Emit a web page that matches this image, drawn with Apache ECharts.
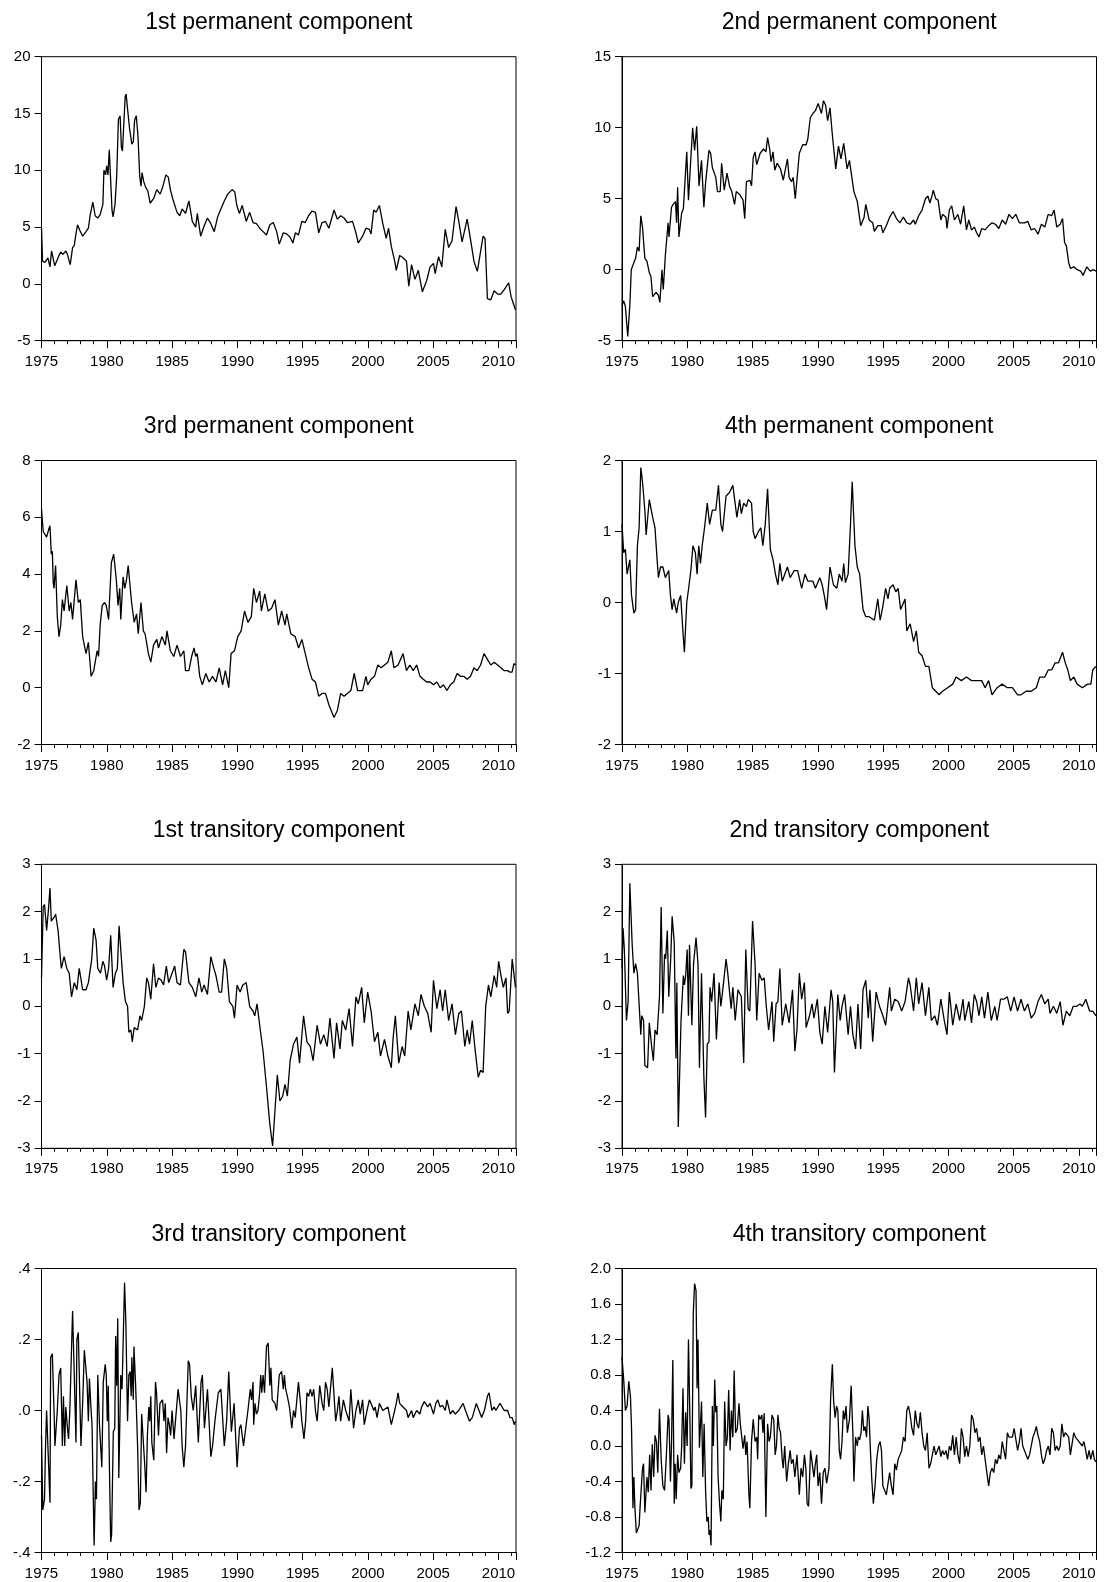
<!DOCTYPE html>
<html>
<head>
<meta charset="utf-8">
<script src="https://cdn.jsdelivr.net/npm/echarts@6/dist/echarts.min.js"></script>
<style>
  html, body { margin: 0; padding: 0; background: #ffffff; }
  #chart { width: 1105px; height: 1582px; }
</style>
</head>
<body>
<div id="chart"></div>
<script>
// Monthly-sampled components, stored as [decimal year, value]
const perm1 = [[1975.00,5.0],[1975.08,2.0],[1975.26,1.9],[1975.49,2.3],[1975.65,1.5],[1975.77,2.9],[1976.01,1.6],[1976.16,2.0],[1976.34,2.5],[1976.47,2.8],[1976.65,2.6],[1976.86,2.9],[1976.99,2.6],[1977.12,2.0],[1977.20,1.7],[1977.38,3.2],[1977.51,3.4],[1977.64,4.4],[1977.76,5.2],[1977.94,4.7],[1978.15,4.2],[1978.41,4.6],[1978.59,4.9],[1978.72,6.0],[1978.93,7.2],[1979.11,6.0],[1979.31,5.8],[1979.49,6.1],[1979.70,7.0],[1979.78,10.0],[1979.91,9.6],[1979.99,10.4],[1980.09,9.6],[1980.19,11.8],[1980.30,11.8],[1980.40,6.5],[1980.48,5.9],[1980.63,7.0],[1980.76,9.5],[1980.89,14.5],[1981.02,14.8],[1981.12,12.0],[1981.20,11.7],[1981.30,14.0],[1981.41,16.5],[1981.48,16.7],[1981.61,15.2],[1981.74,13.7],[1981.82,13.7],[1981.92,12.3],[1982.03,12.5],[1982.13,14.4],[1982.26,14.8],[1982.39,13.0],[1982.52,9.5],[1982.62,8.6],[1982.70,9.8],[1982.83,9.0],[1982.98,8.5],[1983.14,8.2],[1983.32,7.1],[1983.58,7.5],[1983.83,8.3],[1984.09,7.9],[1984.30,8.6],[1984.53,9.6],[1984.71,9.4],[1984.87,8.3],[1985.05,7.5],[1985.38,6.3],[1985.59,6.0],[1985.77,6.6],[1986.03,6.2],[1986.29,7.3],[1986.55,5.5],[1986.81,5.0],[1986.93,6.2],[1987.19,4.2],[1987.45,5.1],[1987.71,5.8],[1987.97,5.3],[1988.23,4.6],[1988.49,5.9],[1988.74,6.6],[1989.00,7.3],[1989.26,7.9],[1989.60,8.3],[1989.80,8.1],[1989.96,6.9],[1990.16,6.2],[1990.37,6.9],[1990.68,5.5],[1990.94,6.3],[1991.20,5.4],[1991.46,5.3],[1991.71,4.9],[1991.97,4.6],[1992.23,4.3],[1992.49,5.2],[1992.75,5.4],[1993.01,4.6],[1993.21,3.5],[1993.52,4.5],[1993.78,4.4],[1994.04,4.1],[1994.25,3.6],[1994.45,4.5],[1994.68,4.3],[1994.94,5.5],[1995.20,5.4],[1995.45,6.0],[1995.71,6.4],[1995.98,6.3],[1996.23,4.5],[1996.49,5.4],[1996.75,5.5],[1997.01,4.9],[1997.40,6.5],[1997.66,5.7],[1997.91,6.0],[1998.17,5.8],[1998.43,5.4],[1998.82,5.5],[1999.08,4.5],[1999.26,3.6],[1999.59,4.2],[1999.85,4.9],[2000.11,4.8],[2000.24,4.4],[2000.44,6.5],[2000.63,6.3],[2000.88,6.9],[2001.01,6.9],[2001.14,5.3],[2001.40,4.0],[2001.58,4.9],[2001.79,3.3],[2002.05,2.0],[2002.17,1.2],[2002.43,2.5],[2002.69,2.3],[2002.95,2.0],[2003.13,-0.2],[2003.34,1.7],[2003.60,0.4],[2003.86,1.2],[2004.17,-0.7],[2004.50,0.3],[2004.76,1.5],[2005.02,1.8],[2005.15,0.9],[2005.41,2.4],[2005.66,1.5],[2005.92,4.8],[2006.18,3.2],[2006.44,3.8],[2006.75,6.8],[2006.96,5.5],[2007.21,3.7],[2007.60,5.7],[2007.86,3.9],[2008.12,2.0],[2008.38,1.1],[2008.51,1.2],[2008.82,4.2],[2008.97,4.0],[2009.15,-1.3],[2009.41,-1.4],[2009.67,-0.6],[2009.93,-0.9],[2010.18,-0.9],[2010.44,-0.5],[2010.78,0.1],[2010.96,-1.1],[2011.10,-1.6],[2011.30,-2.3]];

const perm2 = [[1975.00,-2.5],[1975.13,-2.2],[1975.26,-2.6],[1975.44,-4.7],[1975.60,-2.5],[1975.71,0.0],[1975.91,0.5],[1976.04,0.8],[1976.18,1.6],[1976.31,1.3],[1976.44,3.8],[1976.57,3.0],[1976.75,0.8],[1976.91,0.6],[1977.09,-0.2],[1977.22,-0.5],[1977.35,-1.9],[1977.61,-1.6],[1977.79,-1.8],[1977.90,-2.3],[1978.06,0.0],[1978.16,-1.4],[1978.32,1.0],[1978.53,3.3],[1978.60,2.3],[1978.79,4.4],[1978.92,4.6],[1979.10,4.8],[1979.18,3.3],[1979.26,5.8],[1979.36,2.3],[1979.47,2.3],[1979.57,4.0],[1979.70,4.3],[1979.83,6.3],[1979.96,8.3],[1980.09,4.9],[1980.22,7.0],[1980.41,10.0],[1980.56,8.4],[1980.72,10.1],[1980.90,5.9],[1981.09,7.7],[1981.27,4.4],[1981.40,6.1],[1981.66,8.4],[1981.79,8.2],[1981.92,7.2],[1982.18,6.5],[1982.31,5.5],[1982.52,5.5],[1982.63,7.5],[1982.83,5.6],[1983.04,6.8],[1983.23,5.9],[1983.41,5.5],[1983.62,4.6],[1983.75,5.5],[1984.01,5.3],[1984.27,4.9],[1984.40,3.6],[1984.53,6.2],[1984.79,6.3],[1984.92,5.9],[1985.05,7.9],[1985.19,8.3],[1985.32,7.4],[1985.58,8.2],[1985.84,8.5],[1986.02,8.3],[1986.15,9.3],[1986.31,8.5],[1986.41,7.6],[1986.57,8.3],[1986.70,7.0],[1986.88,7.5],[1987.14,7.1],[1987.35,6.3],[1987.67,7.8],[1987.80,6.5],[1987.98,6.2],[1988.11,6.5],[1988.27,5.0],[1988.40,4.9],[1988.58,8.2],[1988.84,8.8],[1989.10,8.8],[1989.23,9.2],[1989.42,10.7],[1989.62,11.0],[1989.81,11.2],[1990.02,11.7],[1990.28,11.0],[1990.43,11.9],[1990.59,11.6],[1990.75,10.5],[1990.93,11.4],[1991.11,9.5],[1991.37,7.1],[1991.58,8.7],[1991.77,7.8],[1991.98,8.9],[1992.24,7.1],[1992.42,7.7],[1992.76,5.5],[1993.02,4.8],[1993.28,3.1],[1993.54,3.7],[1993.67,4.6],[1993.93,3.5],[1994.20,3.3],[1994.33,2.7],[1994.59,3.1],[1994.85,3.1],[1994.98,2.6],[1995.24,3.1],[1995.50,3.7],[1995.76,4.1],[1996.02,3.6],[1996.28,3.3],[1996.55,3.7],[1996.81,3.3],[1997.07,3.2],[1997.33,3.5],[1997.46,3.2],[1997.72,3.8],[1997.98,4.2],[1998.24,5.0],[1998.43,5.2],[1998.58,4.7],[1998.77,5.3],[1998.84,5.6],[1999.03,5.0],[1999.21,4.9],[1999.42,3.5],[1999.55,3.9],[1999.81,3.7],[1999.89,2.9],[2000.07,4.2],[2000.25,4.5],[2000.46,3.5],[2000.72,3.9],[2000.93,3.2],[2001.17,4.5],[2001.38,2.8],[2001.56,3.5],[2001.77,2.8],[2001.98,3.0],[2002.16,2.6],[2002.34,2.3],[2002.55,2.9],[2002.81,2.8],[2003.08,3.1],[2003.34,3.3],[2003.60,3.2],[2003.86,2.9],[2004.12,3.5],[2004.38,3.2],[2004.64,3.9],[2004.90,3.6],[2005.16,3.9],[2005.43,3.3],[2005.82,3.3],[2006.08,3.4],[2006.34,2.8],[2006.60,2.9],[2006.86,2.5],[2007.12,3.2],[2007.38,3.0],[2007.64,3.9],[2007.91,3.8],[2008.09,4.2],[2008.30,3.0],[2008.56,3.2],[2008.74,3.6],[2008.90,1.9],[2009.03,1.7],[2009.21,0.5],[2009.34,0.1],[2009.60,0.2],[2009.86,0.0],[2010.13,-0.1],[2010.31,-0.4],[2010.60,0.2],[2010.86,-0.1],[2011.10,0.0],[2011.30,-0.1]];

const perm3 = [[1975.00,6.3],[1975.13,5.5],[1975.26,5.5],[1975.39,5.3],[1975.57,5.6],[1975.65,5.7],[1975.75,4.7],[1975.83,4.8],[1975.90,3.7],[1975.96,3.5],[1976.08,4.3],[1976.21,2.5],[1976.34,1.8],[1976.47,2.2],[1976.60,3.1],[1976.73,2.7],[1976.94,3.6],[1977.12,2.7],[1977.25,3.0],[1977.38,2.4],[1977.64,3.8],[1977.82,3.0],[1977.97,3.1],[1978.15,1.8],[1978.41,1.2],[1978.59,1.6],[1978.80,0.4],[1979.00,0.6],[1979.26,1.3],[1979.37,1.1],[1979.49,2.2],[1979.65,2.9],[1979.83,3.0],[1979.96,2.9],[1980.14,2.4],[1980.35,4.4],[1980.53,4.7],[1980.73,3.8],[1980.86,2.9],[1980.99,3.5],[1981.07,2.4],[1981.25,3.9],[1981.38,3.5],[1981.51,3.8],[1981.64,4.3],[1981.90,3.0],[1982.10,2.3],[1982.28,2.6],[1982.41,1.9],[1982.62,3.0],[1982.80,2.0],[1982.93,1.9],[1983.19,1.2],[1983.37,0.9],[1983.58,1.5],[1983.83,1.7],[1983.96,1.4],[1984.22,1.8],[1984.48,1.5],[1984.61,2.0],[1984.87,1.3],[1985.13,1.1],[1985.38,1.5],[1985.64,1.1],[1985.90,1.3],[1986.03,0.6],[1986.29,0.6],[1986.50,1.1],[1986.68,1.4],[1986.81,1.1],[1986.93,1.2],[1987.12,0.4],[1987.32,0.1],[1987.58,0.5],[1987.84,0.2],[1988.10,0.4],[1988.36,0.2],[1988.61,0.7],[1988.87,0.1],[1989.08,0.6],[1989.34,0.0],[1989.52,1.2],[1989.78,1.3],[1990.03,1.8],[1990.29,2.0],[1990.55,2.7],[1990.81,2.3],[1991.07,2.5],[1991.25,3.5],[1991.46,3.0],[1991.71,3.4],[1991.84,2.7],[1992.10,3.3],[1992.36,2.7],[1992.62,2.8],[1992.88,3.1],[1993.14,2.2],[1993.39,2.7],[1993.65,2.2],[1993.78,2.6],[1994.09,1.9],[1994.43,1.8],[1994.69,1.4],[1994.94,1.7],[1995.20,1.2],[1995.46,0.7],[1995.72,0.3],[1995.98,0.2],[1996.23,-0.3],[1996.49,-0.2],[1996.75,-0.2],[1997.01,-0.6],[1997.27,-0.9],[1997.40,-1.05],[1997.66,-0.8],[1997.91,-0.2],[1998.17,-0.3],[1998.43,-0.2],[1998.69,-0.1],[1998.95,0.5],[1999.21,-0.1],[1999.59,-0.1],[1999.85,0.4],[1999.98,0.1],[2000.24,0.3],[2000.50,0.4],[2000.76,0.8],[2001.01,0.7],[2001.27,0.8],[2001.53,0.9],[2001.79,1.3],[2001.99,0.7],[2002.31,0.8],[2002.69,1.2],[2002.95,0.6],[2003.21,0.8],[2003.47,0.6],[2003.73,0.8],[2003.99,0.4],[2004.24,0.3],[2004.50,0.2],[2004.76,0.2],[2005.02,0.1],[2005.28,0.2],[2005.53,0.0],[2005.79,0.1],[2006.05,-0.1],[2006.31,0.1],[2006.57,0.2],[2006.83,0.5],[2007.08,0.4],[2007.34,0.4],[2007.60,0.3],[2007.86,0.4],[2008.12,0.7],[2008.37,0.6],[2008.63,0.8],[2008.89,1.2],[2009.15,1.0],[2009.41,0.8],[2009.67,0.9],[2009.93,0.8],[2010.18,0.7],[2010.44,0.6],[2010.70,0.6],[2010.88,0.55],[2011.04,0.55],[2011.18,0.85],[2011.30,0.8]];

const perm4 = [[1975.00,1.1],[1975.13,0.7],[1975.26,0.75],[1975.39,0.4],[1975.60,0.6],[1975.73,0.1],[1975.91,-0.15],[1976.04,-0.1],[1976.18,0.8],[1976.31,1.05],[1976.44,1.9],[1976.57,1.7],[1976.75,1.3],[1976.85,0.95],[1977.09,1.45],[1977.35,1.2],[1977.53,1.05],[1977.69,0.6],[1977.79,0.35],[1977.95,0.5],[1978.13,0.5],[1978.32,0.35],[1978.58,0.45],[1978.71,0.1],[1978.84,-0.1],[1978.97,0.05],[1979.18,-0.15],[1979.31,0.0],[1979.49,0.1],[1979.70,-0.5],[1979.78,-0.7],[1979.96,0.0],[1980.14,0.25],[1980.30,0.5],[1980.43,0.8],[1980.62,0.7],[1980.75,0.4],[1980.88,0.8],[1981.01,0.55],[1981.14,0.8],[1981.32,1.05],[1981.53,1.4],[1981.71,1.1],[1981.92,1.3],[1982.18,1.3],[1982.39,1.65],[1982.57,1.1],[1982.70,1.0],[1982.97,1.5],[1983.23,1.55],[1983.49,1.65],[1983.62,1.65],[1983.80,1.2],[1984.01,1.45],[1984.14,1.25],[1984.32,1.4],[1984.53,1.35],[1984.66,1.45],[1984.92,1.4],[1985.05,1.0],[1985.19,0.9],[1985.45,1.0],[1985.63,1.05],[1985.79,0.8],[1985.97,1.1],[1986.15,1.6],[1986.36,0.75],[1986.57,0.6],[1986.75,0.4],[1986.94,0.25],[1987.09,0.55],[1987.27,0.3],[1987.67,0.5],[1987.88,0.35],[1988.19,0.45],[1988.45,0.45],[1988.76,0.2],[1989.02,0.4],[1989.23,0.3],[1989.62,0.3],[1989.81,0.2],[1990.15,0.35],[1990.33,0.25],[1990.49,0.1],[1990.67,-0.1],[1990.93,0.5],[1991.19,0.25],[1991.45,0.2],[1991.64,0.4],[1991.85,0.3],[1991.98,0.55],[1992.11,0.28],[1992.32,0.4],[1992.50,1.1],[1992.63,1.7],[1992.84,0.8],[1993.02,0.5],[1993.20,0.4],[1993.46,-0.1],[1993.67,-0.2],[1993.93,-0.2],[1994.33,-0.25],[1994.59,0.05],[1994.77,-0.25],[1994.98,-0.05],[1995.19,0.2],[1995.37,0.05],[1995.50,0.2],[1995.76,0.25],[1995.97,0.15],[1996.15,0.2],[1996.34,-0.1],[1996.68,0.05],[1996.81,-0.4],[1997.07,-0.3],[1997.33,-0.55],[1997.54,-0.4],[1997.72,-0.7],[1997.98,-0.75],[1998.24,-0.9],[1998.50,-0.9],[1998.77,-1.2],[1999.03,-1.25],[1999.29,-1.3],[1999.55,-1.25],[1999.94,-1.2],[2000.33,-1.15],[2000.59,-1.05],[2000.99,-1.1],[2001.38,-1.05],[2001.77,-1.1],[2002.16,-1.1],[2002.55,-1.1],[2002.81,-1.2],[2003.08,-1.1],[2003.34,-1.3],[2003.73,-1.2],[2004.12,-1.15],[2004.51,-1.2],[2004.90,-1.2],[2005.30,-1.3],[2005.56,-1.3],[2005.95,-1.25],[2006.34,-1.25],[2006.73,-1.2],[2006.99,-1.05],[2007.38,-1.05],[2007.64,-0.95],[2007.91,-0.95],[2008.17,-0.85],[2008.43,-0.85],[2008.74,-0.7],[2008.95,-0.85],[2009.14,-0.95],[2009.34,-1.1],[2009.60,-1.05],[2009.86,-1.15],[2010.26,-1.2],[2010.65,-1.15],[2010.91,-1.15],[2011.05,-0.95],[2011.30,-0.9]];

const trans1 = [[1975.00,0.6],[1975.13,2.1],[1975.23,2.15],[1975.31,1.9],[1975.39,1.6],[1975.52,2.0],[1975.65,2.5],[1975.75,1.8],[1975.88,1.8],[1976.01,1.9],[1976.08,1.95],[1976.27,1.6],[1976.42,1.1],[1976.52,0.8],[1976.73,1.05],[1976.94,0.8],[1977.12,0.7],[1977.30,0.2],[1977.51,0.5],[1977.71,0.35],[1977.89,0.8],[1978.15,0.35],[1978.41,0.35],[1978.59,0.5],[1978.85,1.0],[1979.00,1.65],[1979.18,1.4],[1979.31,0.8],[1979.52,0.7],[1979.70,0.95],[1979.83,0.85],[1979.99,0.55],[1980.14,0.8],[1980.30,1.5],[1980.48,0.4],[1980.66,0.7],[1980.81,0.8],[1980.94,1.7],[1981.07,1.7],[1981.25,0.5],[1981.43,0.1],[1981.59,0.0],[1981.69,-0.55],[1981.85,-0.5],[1981.95,-0.75],[1982.10,-0.45],[1982.36,-0.5],[1982.54,-0.2],[1982.67,-0.3],[1982.88,0.0],[1983.06,0.6],[1983.19,0.5],[1983.37,0.15],[1983.58,0.9],[1983.76,0.4],[1983.96,0.6],[1984.17,0.55],[1984.35,0.45],[1984.56,0.85],[1984.74,0.5],[1985.00,0.7],[1985.20,0.85],[1985.38,0.5],[1985.64,0.45],[1985.90,1.2],[1986.03,1.15],[1986.29,0.5],[1986.55,0.4],[1986.81,0.2],[1987.06,0.6],[1987.27,0.3],[1987.45,0.45],[1987.71,0.25],[1987.97,1.05],[1988.15,0.85],[1988.36,0.65],[1988.61,0.3],[1988.79,0.3],[1989.00,1.0],[1989.18,0.8],[1989.39,0.1],[1989.65,0.0],[1989.78,-0.25],[1989.98,0.45],[1990.21,0.3],[1990.42,0.45],[1990.68,0.5],[1990.94,0.0],[1991.20,-0.1],[1991.33,-0.2],[1991.51,0.05],[1991.71,-0.4],[1991.97,-0.95],[1992.23,-1.7],[1992.49,-2.5],[1992.70,-2.95],[1992.88,-2.2],[1993.06,-1.45],[1993.26,-2.0],[1993.47,-1.9],[1993.65,-1.65],[1993.83,-1.9],[1994.04,-1.15],[1994.30,-0.8],[1994.56,-0.65],[1994.76,-1.2],[1995.07,-0.2],[1995.33,-0.75],[1995.59,-0.85],[1995.80,-1.15],[1996.11,-0.4],[1996.36,-0.8],[1996.62,-0.6],[1996.88,-0.85],[1997.09,-0.25],[1997.40,-1.1],[1997.60,-0.35],[1997.86,-0.9],[1998.04,-0.3],[1998.30,-0.5],[1998.56,-0.05],[1998.82,-0.85],[1999.08,0.2],[1999.26,0.05],[1999.52,0.4],[1999.72,-0.35],[1999.98,0.3],[2000.24,-0.1],[2000.50,-0.75],[2000.76,-0.55],[2000.96,-1.05],[2001.27,-0.7],[2001.53,-1.05],[2001.79,-1.3],[2001.92,-0.7],[2002.10,-0.2],[2002.36,-1.2],[2002.62,-0.85],[2002.82,-1.05],[2003.08,-0.1],[2003.29,-0.5],[2003.60,0.05],[2003.86,-0.2],[2004.06,0.25],[2004.32,0.0],[2004.58,-0.15],[2004.84,-0.55],[2005.02,0.55],[2005.28,-0.05],[2005.53,0.35],[2005.72,-0.1],[2005.92,0.35],[2006.18,-0.3],[2006.44,0.05],[2006.70,-0.6],[2006.96,-0.15],[2007.16,-0.1],[2007.42,-0.85],[2007.60,-0.5],[2007.78,-0.8],[2007.99,-0.3],[2008.20,-0.9],[2008.45,-1.5],[2008.63,-1.35],[2008.82,-1.4],[2009.02,0.0],[2009.23,0.45],[2009.41,0.2],[2009.67,0.65],[2009.86,0.4],[2010.01,0.95],[2010.19,0.65],[2010.37,0.4],[2010.57,0.6],[2010.70,-0.15],[2010.82,-0.1],[2011.05,1.0],[2011.30,0.4]];

const trans2 = [[1975.00,0.8],[1975.08,1.65],[1975.18,1.2],[1975.34,-0.3],[1975.47,0.1],[1975.60,2.6],[1975.78,1.3],[1975.91,0.7],[1976.04,0.9],[1976.18,0.7],[1976.44,-0.6],[1976.51,-0.2],[1976.65,-0.3],[1976.75,-1.25],[1976.96,-1.3],[1977.09,-0.35],[1977.27,-0.85],[1977.40,-1.15],[1977.53,-0.5],[1977.69,-0.6],[1977.87,0.2],[1978.00,2.1],[1978.13,-0.15],[1978.26,1.1],[1978.34,1.0],[1978.47,1.6],[1978.58,0.2],[1978.73,1.0],[1978.84,1.9],[1979.00,1.35],[1979.13,-1.1],[1979.20,0.5],[1979.31,-2.55],[1979.52,-0.3],[1979.70,0.65],[1979.78,0.45],[1979.88,0.65],[1979.99,1.2],[1980.09,-0.2],[1980.17,1.3],[1980.35,-0.4],[1980.48,0.9],[1980.67,1.45],[1980.82,0.9],[1980.93,-1.3],[1981.09,0.7],[1981.27,-1.5],[1981.40,-2.35],[1981.53,-0.8],[1981.66,-0.75],[1981.74,0.4],[1981.87,0.1],[1982.05,0.7],[1982.23,-0.7],[1982.44,0.5],[1982.57,0.0],[1982.70,0.3],[1982.97,1.0],[1983.10,0.7],[1983.36,-0.05],[1983.49,0.4],[1983.67,-0.3],[1983.88,0.35],[1984.14,0.2],[1984.32,-1.2],[1984.48,1.2],[1984.66,-0.05],[1984.79,-0.1],[1985.00,1.8],[1985.19,0.9],[1985.32,-0.3],[1985.50,0.7],[1985.71,0.55],[1985.89,0.6],[1986.05,0.0],[1986.23,-0.5],[1986.49,0.1],[1986.62,-0.75],[1986.80,0.05],[1986.94,0.1],[1987.09,0.8],[1987.27,-0.4],[1987.54,0.05],[1987.80,-0.35],[1988.06,0.35],[1988.24,-0.95],[1988.40,-0.5],[1988.58,0.7],[1988.76,0.15],[1988.97,0.5],[1989.10,-0.45],[1989.36,-0.2],[1989.55,0.05],[1989.70,-0.25],[1989.96,0.15],[1990.15,-0.55],[1990.33,-0.8],[1990.54,0.0],[1990.75,-0.55],[1991.01,0.35],[1991.14,0.1],[1991.27,-1.4],[1991.53,0.25],[1991.71,-0.3],[1991.85,0.0],[1992.05,0.25],[1992.32,-0.6],[1992.50,0.0],[1992.68,-0.6],[1992.89,-0.9],[1993.07,0.05],[1993.28,-0.9],[1993.46,0.35],[1993.67,0.55],[1993.86,-0.25],[1993.99,0.35],[1994.20,-0.75],[1994.46,0.3],[1994.72,0.0],[1994.98,-0.2],[1995.19,-0.4],[1995.50,0.4],[1995.63,-0.1],[1995.89,0.15],[1996.15,0.1],[1996.42,-0.1],[1996.68,0.1],[1996.94,0.6],[1997.07,0.45],[1997.33,-0.1],[1997.54,0.6],[1997.72,0.05],[1997.98,0.5],[1998.24,-0.2],[1998.50,0.4],[1998.69,-0.3],[1998.95,-0.2],[1999.16,-0.4],[1999.42,0.15],[1999.68,-0.3],[1999.89,-0.6],[2000.07,0.3],[2000.33,-0.4],[2000.59,0.05],[2000.86,-0.3],[2001.12,0.15],[2001.25,-0.3],[2001.56,0.1],[2001.77,-0.35],[2001.98,0.25],[2002.16,0.1],[2002.34,-0.2],[2002.55,0.2],[2002.76,-0.25],[2003.02,0.3],[2003.28,-0.3],[2003.55,0.0],[2003.73,-0.3],[2003.99,0.15],[2004.25,0.15],[2004.51,0.2],[2004.77,-0.1],[2005.03,0.2],[2005.29,-0.1],[2005.56,0.15],[2005.82,-0.1],[2006.08,0.05],[2006.34,-0.25],[2006.60,-0.15],[2006.86,0.1],[2007.12,0.25],[2007.38,0.05],[2007.64,0.15],[2007.78,-0.15],[2008.04,0.0],[2008.30,-0.15],[2008.56,0.1],[2008.77,-0.4],[2009.03,-0.1],[2009.29,-0.2],[2009.56,0.0],[2009.82,0.0],[2010.08,0.05],[2010.26,0.0],[2010.52,0.15],[2010.81,-0.1],[2011.05,-0.1],[2011.30,-0.2]];

const trans3 = [[1975.00,-0.07],[1975.10,-0.28],[1975.23,-0.25],[1975.31,-0.10],[1975.39,0.0],[1975.49,-0.10],[1975.65,-0.26],[1975.70,0.15],[1975.83,0.16],[1975.96,0.0],[1976.03,-0.10],[1976.14,-0.10],[1976.21,0.0],[1976.34,0.10],[1976.47,0.12],[1976.60,-0.10],[1976.68,0.04],[1976.78,-0.10],[1976.86,0.01],[1976.99,-0.05],[1977.07,-0.08],[1977.17,0.0],[1977.38,0.28],[1977.51,0.10],[1977.64,-0.09],[1977.71,0.20],[1977.82,0.22],[1978.02,-0.10],[1978.15,0.02],[1978.28,0.17],[1978.49,0.08],[1978.59,-0.03],[1978.67,0.09],[1978.80,0.0],[1978.87,-0.04],[1978.95,-0.04],[1979.03,-0.38],[1979.13,-0.20],[1979.21,-0.25],[1979.31,0.10],[1979.44,-0.04],[1979.52,-0.04],[1979.62,-0.16],[1979.73,0.08],[1979.88,0.13],[1979.96,0.10],[1980.04,-0.03],[1980.11,0.07],[1980.22,-0.20],[1980.30,-0.37],[1980.37,-0.35],[1980.50,-0.06],[1980.61,-0.05],[1980.68,0.21],[1980.76,0.07],[1980.84,0.26],[1980.92,-0.19],[1981.07,0.10],[1981.17,0.06],[1981.36,0.36],[1981.46,0.25],[1981.59,-0.03],[1981.69,0.10],[1981.79,0.11],[1981.87,0.04],[1981.92,0.15],[1982.03,0.03],[1982.08,0.18],[1982.21,0.07],[1982.29,0.07],[1982.36,-0.10],[1982.47,-0.28],[1982.57,-0.26],[1982.67,-0.01],[1982.80,-0.01],[1982.90,-0.15],[1983.01,-0.23],[1983.11,-0.07],[1983.22,0.01],[1983.29,-0.03],[1983.37,0.04],[1983.45,-0.09],[1983.60,-0.14],[1983.73,0.08],[1983.81,0.05],[1983.96,-0.07],[1984.07,0.02],[1984.17,0.02],[1984.27,0.03],[1984.38,-0.03],[1984.48,0.02],[1984.58,-0.12],[1984.69,-0.02],[1984.79,-0.04],[1984.89,-0.07],[1985.00,0.0],[1985.15,-0.08],[1985.26,-0.03],[1985.46,0.06],[1985.67,0.0],[1985.77,-0.10],[1985.90,-0.16],[1986.03,-0.10],[1986.24,0.14],[1986.34,0.13],[1986.47,0.04],[1986.55,0.04],[1986.62,0.0],[1986.81,0.07],[1986.88,0.07],[1987.01,-0.09],[1987.22,0.08],[1987.32,0.10],[1987.48,-0.05],[1987.55,-0.05],[1987.71,0.06],[1987.97,-0.13],[1988.10,-0.10],[1988.28,-0.03],[1988.54,0.05],[1988.74,0.06],[1989.00,-0.10],[1989.18,-0.03],[1989.34,0.11],[1989.54,-0.06],[1989.75,0.02],[1989.98,-0.16],[1990.16,-0.05],[1990.27,-0.04],[1990.47,-0.10],[1990.60,-0.10],[1990.81,0.0],[1990.89,0.0],[1990.99,0.06],[1991.09,0.03],[1991.20,0.08],[1991.25,-0.04],[1991.35,0.02],[1991.46,-0.01],[1991.58,0.0],[1991.71,0.05],[1991.79,0.10],[1991.87,0.05],[1991.97,0.10],[1992.08,0.05],[1992.23,0.18],[1992.36,0.19],[1992.49,0.07],[1992.57,0.12],[1992.67,0.03],[1992.88,0.02],[1993.01,0.0],[1993.21,0.10],[1993.39,0.11],[1993.52,0.06],[1993.60,0.10],[1993.70,0.06],[1993.83,0.04],[1993.99,0.01],[1994.17,-0.05],[1994.30,0.0],[1994.43,-0.02],[1994.68,0.08],[1994.81,0.03],[1994.94,-0.03],[1995.10,-0.08],[1995.23,-0.03],[1995.33,0.05],[1995.46,0.04],[1995.59,0.06],[1995.72,0.04],[1995.85,0.06],[1995.98,0.0],[1996.11,-0.03],[1996.31,0.07],[1996.49,0.02],[1996.62,0.0],[1996.75,0.08],[1996.88,0.06],[1997.01,0.01],[1997.27,0.12],[1997.40,0.12],[1997.53,-0.03],[1997.66,0.0],[1997.78,0.04],[1997.91,-0.03],[1998.12,0.03],[1998.30,0.0],[1998.43,0.0],[1998.56,-0.03],[1998.69,0.06],[1998.90,-0.05],[1999.08,0.0],[1999.26,0.03],[1999.41,-0.01],[1999.59,0.03],[1999.72,-0.04],[1999.93,0.0],[2000.11,0.03],[2000.24,0.02],[2000.45,0.0],[2000.55,0.01],[2000.70,-0.02],[2000.88,0.02],[2001.14,0.0],[2001.53,0.01],[2001.79,-0.04],[2002.05,0.0],[2002.17,0.02],[2002.31,0.05],[2002.43,0.02],[2002.69,0.01],[2002.95,0.0],[2003.08,-0.02],[2003.34,0.0],[2003.47,-0.02],[2003.73,0.0],[2003.98,-0.01],[2004.11,0.01],[2004.32,0.025],[2004.58,0.01],[2004.76,0.02],[2005.02,-0.01],[2005.20,0.02],[2005.35,0.03],[2005.53,0.01],[2005.71,0.015],[2005.92,0.0],[2006.05,0.03],[2006.31,-0.01],[2006.49,0.0],[2006.69,-0.01],[2006.95,0.0],[2007.29,0.02],[2007.47,0.0],[2007.78,-0.03],[2007.99,-0.02],[2008.30,0.02],[2008.45,0.02],[2008.71,-0.02],[2008.92,0.0],[2009.15,0.04],[2009.28,0.05],[2009.49,0.0],[2009.67,0.01],[2009.80,0.0],[2010.11,0.02],[2010.44,0.0],[2010.70,0.0],[2010.88,-0.02],[2011.05,-0.02],[2011.20,-0.04],[2011.30,-0.03]];

const trans4 = [[1975.00,1.0],[1975.13,0.75],[1975.26,0.4],[1975.39,0.45],[1975.52,0.73],[1975.65,0.55],[1975.73,0.2],[1975.84,-0.7],[1975.91,-0.35],[1975.99,-0.7],[1976.10,-0.98],[1976.18,-1.0],[1976.31,-0.9],[1976.38,-0.7],[1976.49,-0.68],[1976.57,-0.25],[1976.65,-0.2],[1976.75,-0.75],[1976.91,-0.35],[1977.01,-0.52],[1977.12,-0.1],[1977.22,-0.5],[1977.32,0.02],[1977.43,-0.35],[1977.53,0.12],[1977.64,0.05],[1977.74,-0.3],[1977.87,0.42],[1978.00,-0.15],[1978.13,-0.45],[1978.26,-0.5],[1978.40,-0.1],[1978.53,0.35],[1978.60,0.3],[1978.71,-0.4],[1978.79,0.0],[1978.89,0.97],[1979.00,-0.65],[1979.07,-0.2],[1979.15,-0.6],[1979.26,-0.1],[1979.36,-0.3],[1979.49,-0.25],[1979.57,0.0],[1979.67,0.65],[1979.78,-0.2],[1979.88,0.38],[1979.99,0.0],[1980.09,1.2],[1980.20,0.3],[1980.28,-0.48],[1980.35,-0.45],[1980.46,1.5],[1980.56,1.83],[1980.67,1.75],[1980.75,0.65],[1980.82,1.2],[1980.93,-0.02],[1981.01,0.0],[1981.09,0.5],[1981.19,-0.35],[1981.29,0.25],[1981.40,-0.5],[1981.50,-0.85],[1981.61,-0.8],[1981.66,-1.0],[1981.74,-0.95],[1981.82,-1.12],[1981.92,0.45],[1982.00,0.0],[1982.10,0.75],[1982.18,0.38],[1982.26,0.45],[1982.36,-0.35],[1982.47,-0.65],[1982.57,-0.85],[1982.65,-0.5],[1982.76,-0.6],[1982.86,0.5],[1982.97,0.0],[1983.07,0.1],[1983.17,0.63],[1983.28,-0.05],[1983.38,0.4],[1983.49,0.1],[1983.59,0.85],[1983.70,0.15],[1983.83,0.2],[1983.96,0.48],[1984.06,0.25],[1984.17,0.23],[1984.27,-0.03],[1984.40,0.12],[1984.48,-0.1],[1984.58,0.05],[1984.72,-0.55],[1984.79,-0.7],[1984.92,0.05],[1985.05,0.3],[1985.19,0.05],[1985.32,0.1],[1985.39,-0.15],[1985.47,0.35],[1985.58,0.3],[1985.71,0.35],[1985.79,0.15],[1985.89,0.37],[1986.02,-0.8],[1986.15,0.25],[1986.26,0.05],[1986.36,0.1],[1986.49,0.35],[1986.62,0.3],[1986.73,-0.1],[1986.83,0.0],[1986.94,0.35],[1987.04,0.2],[1987.14,0.15],[1987.27,-0.15],[1987.35,-0.25],[1987.46,0.0],[1987.61,-0.4],[1987.74,-0.2],[1987.88,-0.05],[1987.98,-0.2],[1988.11,-0.15],[1988.24,-0.35],[1988.40,-0.1],[1988.58,-0.55],[1988.71,-0.25],[1988.84,-0.35],[1988.97,-0.1],[1989.08,-0.25],[1989.18,-0.65],[1989.29,-0.68],[1989.44,-0.05],[1989.55,-0.05],[1989.70,-0.35],[1989.81,-0.2],[1989.91,-0.1],[1990.02,-0.45],[1990.15,-0.3],[1990.28,-0.65],[1990.41,-0.3],[1990.54,-0.25],[1990.67,-0.42],[1990.85,-0.25],[1990.98,0.55],[1991.11,0.92],[1991.21,0.5],[1991.32,0.32],[1991.43,0.45],[1991.53,0.4],[1991.64,-0.05],[1991.74,-0.15],[1991.85,0.05],[1991.95,0.4],[1992.05,0.3],[1992.16,0.45],[1992.26,0.15],[1992.42,0.3],[1992.55,0.68],[1992.68,0.15],[1992.76,-0.4],[1992.89,0.1],[1993.02,0.0],[1993.10,0.1],[1993.20,0.07],[1993.31,0.15],[1993.41,0.4],[1993.52,0.17],[1993.62,0.22],[1993.73,0.1],[1993.83,0.45],[1993.93,0.3],[1994.04,-0.1],[1994.14,-0.4],[1994.25,-0.65],[1994.38,-0.45],[1994.51,-0.15],[1994.64,0.0],[1994.77,0.05],[1994.87,-0.05],[1994.98,-0.45],[1995.11,-0.5],[1995.24,-0.55],[1995.37,-0.55],[1995.50,-0.3],[1995.63,-0.45],[1995.76,-0.55],[1995.89,-0.2],[1996.02,-0.27],[1996.15,-0.15],[1996.29,-0.1],[1996.42,-0.05],[1996.55,0.1],[1996.68,0.05],[1996.81,0.4],[1996.94,0.45],[1997.07,0.35],[1997.20,0.2],[1997.33,0.12],[1997.46,0.4],[1997.59,0.25],[1997.72,0.2],[1997.85,0.38],[1997.98,0.15],[1998.11,0.0],[1998.24,-0.05],[1998.37,0.15],[1998.51,-0.25],[1998.64,-0.2],[1998.77,-0.1],[1998.90,0.0],[1999.03,-0.1],[1999.16,-0.05],[1999.29,0.0],[1999.42,-0.12],[1999.55,-0.05],[1999.68,-0.1],[1999.81,-0.05],[1999.94,-0.15],[2000.07,0.0],[2000.20,-0.05],[2000.33,0.12],[2000.46,-0.1],[2000.59,0.1],[2000.73,-0.1],[2000.86,-0.2],[2000.99,0.2],[2001.12,0.1],[2001.25,-0.12],[2001.38,0.0],[2001.51,-0.12],[2001.64,0.0],[2001.77,0.35],[2001.90,0.3],[2002.03,0.15],[2002.16,0.2],[2002.29,0.05],[2002.42,0.1],[2002.55,-0.1],[2002.68,0.0],[2002.81,0.02],[2002.94,-0.3],[2003.08,-0.45],[2003.21,-0.3],[2003.34,-0.25],[2003.47,-0.3],[2003.60,-0.15],[2003.73,-0.2],[2003.86,-0.1],[2003.99,-0.15],[2004.12,0.05],[2004.25,0.05],[2004.38,-0.15],[2004.51,0.15],[2004.64,0.1],[2004.77,0.1],[2004.90,0.1],[2005.03,0.2],[2005.16,0.2],[2005.30,-0.05],[2005.43,0.05],[2005.56,0.2],[2005.69,0.0],[2005.82,0.0],[2005.95,-0.1],[2006.08,-0.15],[2006.21,-0.1],[2006.34,0.0],[2006.47,0.1],[2006.60,0.15],[2006.73,0.22],[2006.86,0.12],[2006.99,0.05],[2007.12,-0.1],[2007.25,-0.2],[2007.38,-0.15],[2007.52,-0.05],[2007.65,0.0],[2007.78,-0.1],[2007.91,0.2],[2008.04,0.15],[2008.17,-0.05],[2008.30,0.0],[2008.43,-0.05],[2008.56,0.0],[2008.69,0.25],[2008.82,0.1],[2008.95,0.15],[2009.08,0.15],[2009.21,0.1],[2009.34,-0.1],[2009.47,-0.1],[2009.60,0.15],[2009.73,0.1],[2009.86,0.12],[2009.99,0.05],[2010.12,0.05],[2010.25,0.0],[2010.38,0.05],[2010.51,-0.05],[2010.63,-0.15],[2010.77,-0.05],[2010.90,-0.15],[2011.06,-0.05],[2011.18,-0.15],[2011.30,-0.18]];

const panelTitles = [
  '1st permanent component', '2nd permanent component',
  '3rd permanent component', '4th permanent component',
  '1st transitory component', '2nd transitory component',
  '3rd transitory component', '4th transitory component'
];
const panelSeries = [perm1, perm2, perm3, perm4, trans1, trans2, trans3, trans4];
const yMins  = [-5, -5, -2, -2, -3, -3, -0.4, -1.2];
const yMaxs  = [20, 15,  8,  2,  3,  3,  0.4,  2.0];
const ySteps = [ 5,  5,  2,  1,  1,  1,  0.2,  0.4];
const yLabelKinds = ['int', 'int', 'int', 'int', 'int', 'int', 'dot', 'one'];
const xStart = 1975, xEnd = 2011.34;

// Page layout
const FONT = '"Liberation Sans", Arial, Helvetica, sans-serif';
const colLeft = [41.5, 622];
const plotW = 474.5;
const rowTop = [56.7, 460.5, 864.3, 1268.5];
const plotH = 284;

function yFormatter(kind) {
  return function (v) {
    const r = Math.round(v * 10) / 10;
    if (kind === 'dot') {
      const s = Math.abs(r).toFixed(1).replace(/^0/, '');
      return (r < 0 ? '-' : '') + s;
    }
    if (kind === 'one') {
      return (Math.abs(r) < 1e-9 ? 0 : r).toFixed(1);
    }
    return String(Math.round(v));
  };
}

const grids = [], xAxes = [], yAxes = [], series = [], graphics = [];
const black = '#000000';

for (let i = 0; i < 8; i++) {
  const col = i % 2, row = Math.floor(i / 2);
  const left = colLeft[col], top = rowTop[row];
  grids.push({
    left: left, top: top, width: plotW, height: plotH,
    show: true, borderColor: black, borderWidth: 1, backgroundColor: 'transparent',
    containLabel: false
  });
  // major year axis with labels
  xAxes.push({
    type: 'value', gridIndex: i, position: 'bottom',
    min: xStart, max: xEnd, interval: 5,
    axisLine: { show: true, onZero: false, lineStyle: { color: black, width: 1 } },
    axisTick: { show: true, inside: false, length: 7.5, lineStyle: { color: black, width: 1 } },
    axisLabel: {
      show: true, margin: 13.5, color: black, fontSize: 15, fontFamily: FONT,
      showMinLabel: true, showMaxLabel: true, hideOverlap: false,
      formatter: function (v) {
        const r = Math.round(v * 100) / 100;
        return (Math.abs(r - Math.round(r)) < 1e-6 && Math.round(r) % 5 === 0) ? String(Math.round(r)) : '';
      }
    },
    splitLine: { show: false }
  });
  // yearly minor ticks
  xAxes.push({
    type: 'value', gridIndex: i, position: 'bottom',
    min: xStart, max: xEnd, interval: 1,
    axisLine: { show: false, onZero: false },
    axisTick: { show: true, inside: false, length: 3.5, lineStyle: { color: black, width: 1 } },
    axisLabel: { show: false },
    splitLine: { show: false }
  });
  yAxes.push({
    type: 'value', gridIndex: i, position: 'left',
    min: yMins[i], max: yMaxs[i], interval: ySteps[i],
    axisLine: { show: true, onZero: false, lineStyle: { color: black, width: 1 } },
    axisTick: { show: true, inside: false, length: 7, lineStyle: { color: black, width: 1 } },
    axisLabel: {
      show: true, margin: 11, color: black, fontSize: 15, fontFamily: FONT,
      formatter: yFormatter(yLabelKinds[i])
    },
    splitLine: { show: false }
  });
  series.push({
    type: 'line', xAxisIndex: 2 * i, yAxisIndex: i,
    data: panelSeries[i],
    showSymbol: false, symbol: 'none', clip: true,
    lineStyle: { color: black, width: 1.3 },
    emphasis: { disabled: true },
    animation: false
  });
  graphics.push({
    type: 'text', silent: true,
    x: left + plotW / 2, y: top - 34,
    style: {
      text: panelTitles[i], fill: black,
      font: '23px ' + FONT,
      align: 'center', verticalAlign: 'middle'
    }
  });
}

const chart = echarts.init(document.getElementById('chart'), null, { renderer: 'canvas' });
chart.setOption({
  animation: false,
  backgroundColor: '#ffffff',
  grid: grids,
  xAxis: xAxes,
  yAxis: yAxes,
  series: series,
  graphic: graphics
});
</script>
</body>
</html>
